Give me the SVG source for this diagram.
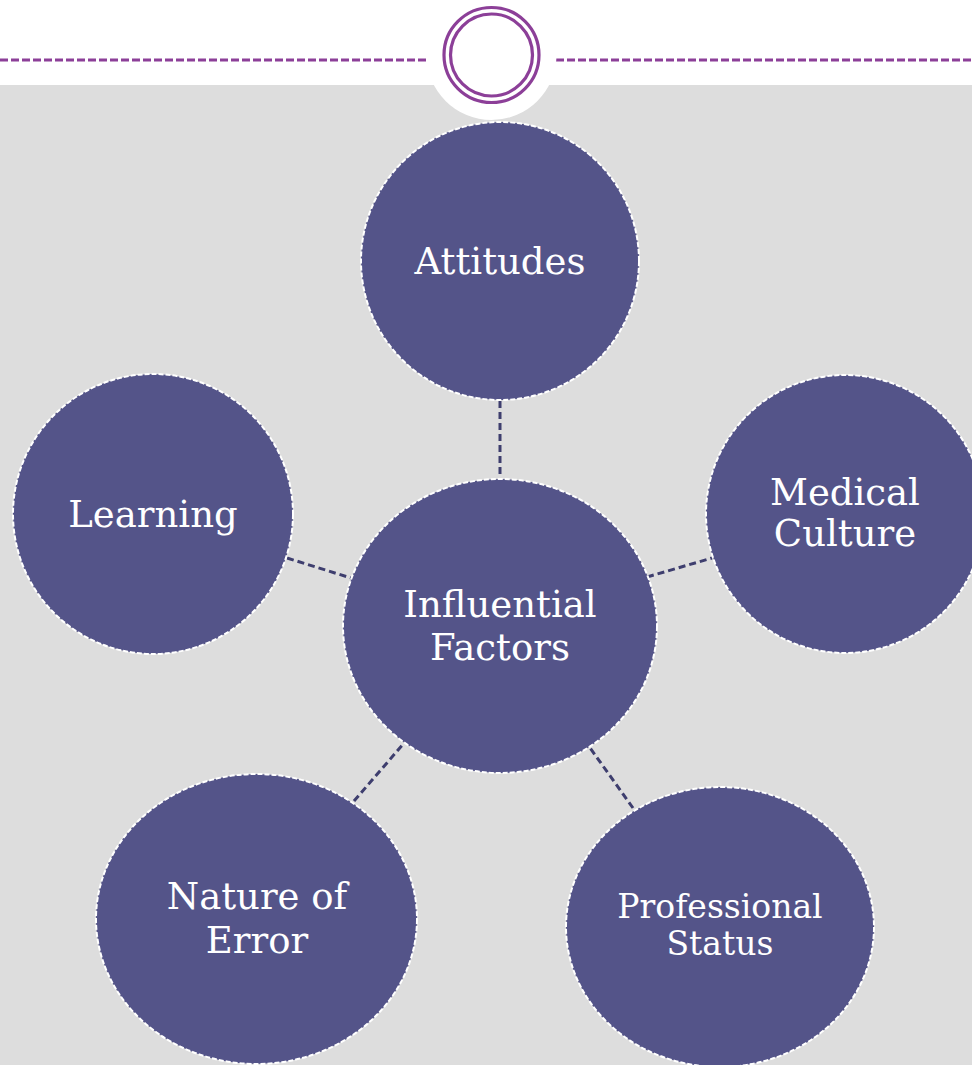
<svg xmlns="http://www.w3.org/2000/svg" width="972" height="1065" viewBox="0 0 972 1065">
<style>
.node{fill:#545489;stroke:#ffffff;stroke-width:2;stroke-dasharray:5 2}
.lbl{font-family:"DejaVu Serif","Liberation Serif",serif;font-size:37px;fill:#ffffff;text-anchor:middle}
.conn{stroke:#3e3e6e;stroke-width:3;stroke-dasharray:7 4;fill:none}
.hdr{stroke:#8c3f98;stroke-width:3;stroke-dasharray:8 3;fill:none}
</style>
<rect x="0" y="0" width="972" height="1065" fill="#ffffff"/>
<rect x="0" y="85" width="972" height="980" fill="#dddddd"/>
<g id="header">
<line class="hdr" x1="0" y1="60" x2="428" y2="60"/>
<line class="hdr" x1="556" y1="60" x2="972" y2="60"/>
<circle cx="491.5" cy="55" r="65" fill="#ffffff"/>
<circle cx="491.5" cy="55" r="47.5" fill="none" stroke="#8c3f98" stroke-width="3.2"/>
<circle cx="491.5" cy="55" r="41" fill="none" stroke="#8c3f98" stroke-width="3.2"/>
</g>
<g id="connectors">
<line class="conn" x1="500" y1="401" x2="500" y2="480"/>
<line class="conn" x1="287" y1="558" x2="351" y2="578"/>
<line class="conn" x1="647" y1="577" x2="712" y2="558"/>
<line class="conn" x1="354" y1="801" x2="405" y2="742"/>
<line class="conn" x1="633" y1="808" x2="588" y2="745"/>
</g>
<g id="attitudes">
<circle class="node" cx="500" cy="261" r="139"/>
<text class="lbl" x="500" y="274">Attitudes</text>
</g>
<g id="learning">
<circle class="node" cx="153" cy="514" r="140"/>
<text class="lbl" x="153" y="527">Learning</text>
</g>
<g id="medical-culture">
<circle class="node" cx="845" cy="514" r="139"/>
<text class="lbl" x="845" y="505">Medical</text>
<text class="lbl" x="845" y="546">Culture</text>
</g>
<g id="influential-factors">
<ellipse class="node" cx="500" cy="626" rx="157" ry="147"/>
<text class="lbl" x="500" y="617">Influential</text>
<text class="lbl" x="500" y="660">Factors</text>
</g>
<g id="nature-of-error">
<ellipse class="node" cx="256.5" cy="919" rx="160.5" ry="145"/>
<text class="lbl" x="257" y="909">Nature of</text>
<text class="lbl" x="257" y="953">Error</text>
</g>
<g id="professional-status">
<ellipse class="node" cx="720" cy="927" rx="154" ry="140"/>
<text class="lbl" x="720" y="918" style="font-size:33px">Professional</text>
<text class="lbl" x="720" y="955" style="font-size:33px">Status</text>
</g>
</svg>
